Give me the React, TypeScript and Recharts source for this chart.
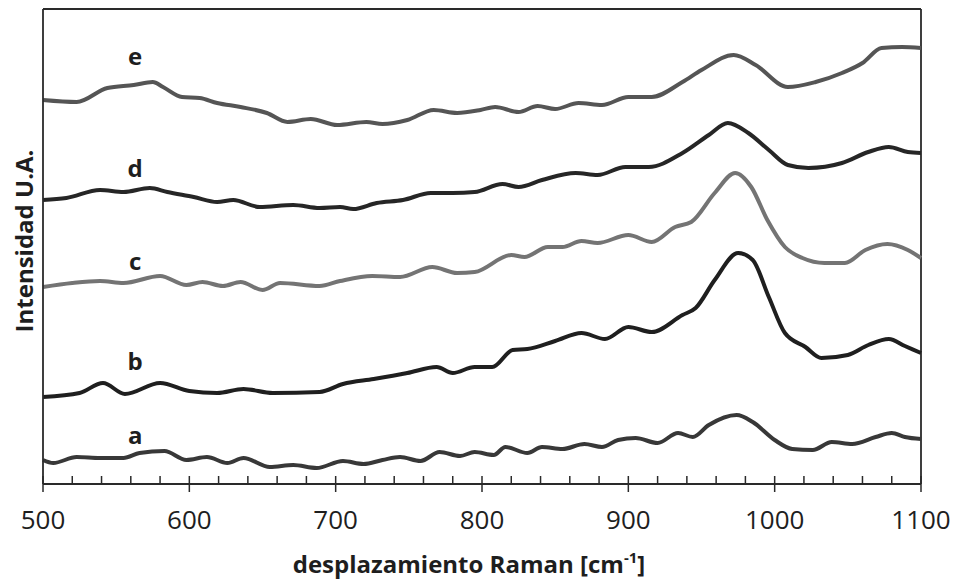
import React from 'react';
import { LineChart, Line, XAxis, YAxis, ReferenceLine, ReferenceDot } from 'recharts';

// Raman shift (cm-1) and intensity (arbitrary units, curves stacked with offsets)
const waveE = [500,523,544,562,575,582,595,607,619,635,653,667,683,701,721,732,749,767,783,799,809,825,838,850,866,882,900,916,937,950,972,987,1009,1028,1046,1060,1073,1087,1100];
const intE = [384,382,396,399,402,397,387,386,381,377,371,362,365,359,362,360,364,374,371,374,377,372,378,375,381,379,387,387,402,414,429,419,397,402,411,421,436,437,436];

const waveD = [500,516,539,555,573,585,603,619,630,648,671,689,703,712,728,746,765,780,795,814,825,841,864,879,898,914,937,955,968,982,996,1009,1023,1046,1064,1078,1091,1100];
const intD = [284,286,294,292,296,292,287,282,284,277,279,276,277,275,281,284,291,291,292,300,297,304,311,309,317,317,331,349,361,351,334,319,316,321,332,337,332,331];

const waveC = [500,520,539,555,580,598,609,623,635,650,662,689,703,725,744,766,783,795,820,829,845,855,868,879,900,916,932,943,959,973,984,995,1007,1019,1034,1048,1062,1077,1091,1100];
const intC = [197,201,203,201,208,199,202,198,202,194,201,198,203,208,207,217,211,212,229,227,237,237,243,241,249,242,257,262,291,311,297,264,237,226,221,221,234,240,234,226];

const waveB = [500,525,541,556,580,600,619,637,657,689,705,726,749,769,780,795,807,821,831,850,868,884,900,916,937,946,959,975,985,996,1007,1021,1032,1050,1064,1078,1089,1100];
const intB = [87,91,101,90,101,93,91,95,91,92,100,105,111,117,111,117,117,134,135,143,151,145,157,152,169,176,204,231,224,187,151,137,126,129,139,145,138,131];

const waveA = [500,507,523,539,555,566,583,598,612,626,637,655,671,687,705,719,732,744,758,771,785,795,808,816,831,841,855,870,882,893,905,920,934,944,955,974,985,1000,1012,1026,1039,1053,1069,1080,1089,1100];
const intA = [24,21,27,26,26,31,33,24,27,21,26,17,19,16,23,20,24,27,23,32,28,32,29,37,31,37,35,40,37,44,46,41,51,47,59,69,62,44,35,34,42,40,47,51,47,45];

const xTicks = [500,520,540,560,580,600,620,640,660,680,700,720,740,760,780,800,820,840,860,880,900,920,940,960,980,1000,1020,1040,1060,1080,1100];
const curveNames = ['a', 'b', 'c', 'd', 'e'];

const zip = (xs: number[], ys: number[]) => xs.map((x, i) => ({ x, y: ys[i] }));
const seriesA = zip(waveA, intA);
const seriesB = zip(waveB, intB);
const seriesC = zip(waveC, intC);
const seriesD = zip(waveD, intD);
const seriesE = zip(waveE, intE);

const FONT = '"Open Sans", "Noto Sans", sans-serif';

const XTick = (props: any) => {
  const { x, y, payload } = props;
  const v = payload.value as number;
  const major = v % 100 === 0;
  return (
    <g>
      <line x1={x} x2={x} y1={y - 8} y2={major ? y + 8 : y} stroke="#2a2a2a" strokeWidth={1.5} />
      {major && (
        <text x={x} y={y + 45} textAnchor="middle" fontFamily={FONT} fontSize={26} fill="#1e1e1e">
          {v}
        </text>
      )}
    </g>
  );
};

const labelStyle = { fontFamily: FONT, fontSize: 24, fontWeight: 700, fill: '#1e1e1e' };

export default function App() {
  return (
    <div style={{ position: 'absolute', left: 0, top: 0, width: 955, height: 581, background: '#fff' }}>
      <LineChart width={955} height={581} margin={{ top: 9, right: 34, bottom: 0, left: 0 }}>
        <XAxis
          dataKey="x"
          type="number"
          domain={[500, 1100]}
          ticks={xTicks}
          interval={0}
          allowDuplicatedCategory={false}
          height={97}
          tickSize={0}
          tickMargin={0}
          tickLine={false}
          tick={<XTick />}
          axisLine={{ stroke: '#2a2a2a', strokeWidth: 1.8 }}
          label={{
            content: () => (
              <text x={469} y={573} textAnchor="middle" {...labelStyle}>
                desplazamiento Raman [cm
                <tspan dy={-10} fontSize={15}>-1</tspan>
                <tspan dy={10}>]</tspan>
              </text>
            ),
          }}
        />
        <YAxis
          type="number"
          domain={[0, 475]}
          width={43}
          tick={false}
          tickLine={false}
          axisLine={{ stroke: '#2a2a2a', strokeWidth: 1.8 }}
          label={{
            content: () => (
              <text x={33} y={241} transform="rotate(-90 33 241)" textAnchor="middle" {...labelStyle}>
                Intensidad U.A.
              </text>
            ),
          }}
        />
        <ReferenceLine y={475} stroke="#2a2a2a" strokeWidth={1.8} />
        <ReferenceLine x={1100} stroke="#2a2a2a" strokeWidth={1.8} />

        <Line data={seriesA} dataKey="y" type="monotone" stroke="#383838" strokeWidth={4} dot={false} isAnimationActive={false} />
        <Line data={seriesB} dataKey="y" type="monotone" stroke="#1f1f1f" strokeWidth={4} dot={false} isAnimationActive={false} />
        <Line data={seriesC} dataKey="y" type="monotone" stroke="#747474" strokeWidth={4} dot={false} isAnimationActive={false} />
        <Line data={seriesD} dataKey="y" type="monotone" stroke="#262626" strokeWidth={4} dot={false} isAnimationActive={false} />
        <Line data={seriesE} dataKey="y" type="monotone" stroke="#555555" strokeWidth={4} dot={false} isAnimationActive={false} />

        <ReferenceDot x={563} y={48.5} r={0} label={{ value: curveNames[0], position: 'center', ...labelStyle }} />
        <ReferenceDot x={563} y={122.5} r={0} label={{ value: curveNames[1], position: 'center', ...labelStyle }} />
        <ReferenceDot x={563} y={222.5} r={0} label={{ value: curveNames[2], position: 'center', ...labelStyle }} />
        <ReferenceDot x={563} y={315.5} r={0} label={{ value: curveNames[3], position: 'center', ...labelStyle }} />
        <ReferenceDot x={563} y={427.5} r={0} label={{ value: curveNames[4], position: 'center', ...labelStyle }} />
      </LineChart>
    </div>
  );
}
